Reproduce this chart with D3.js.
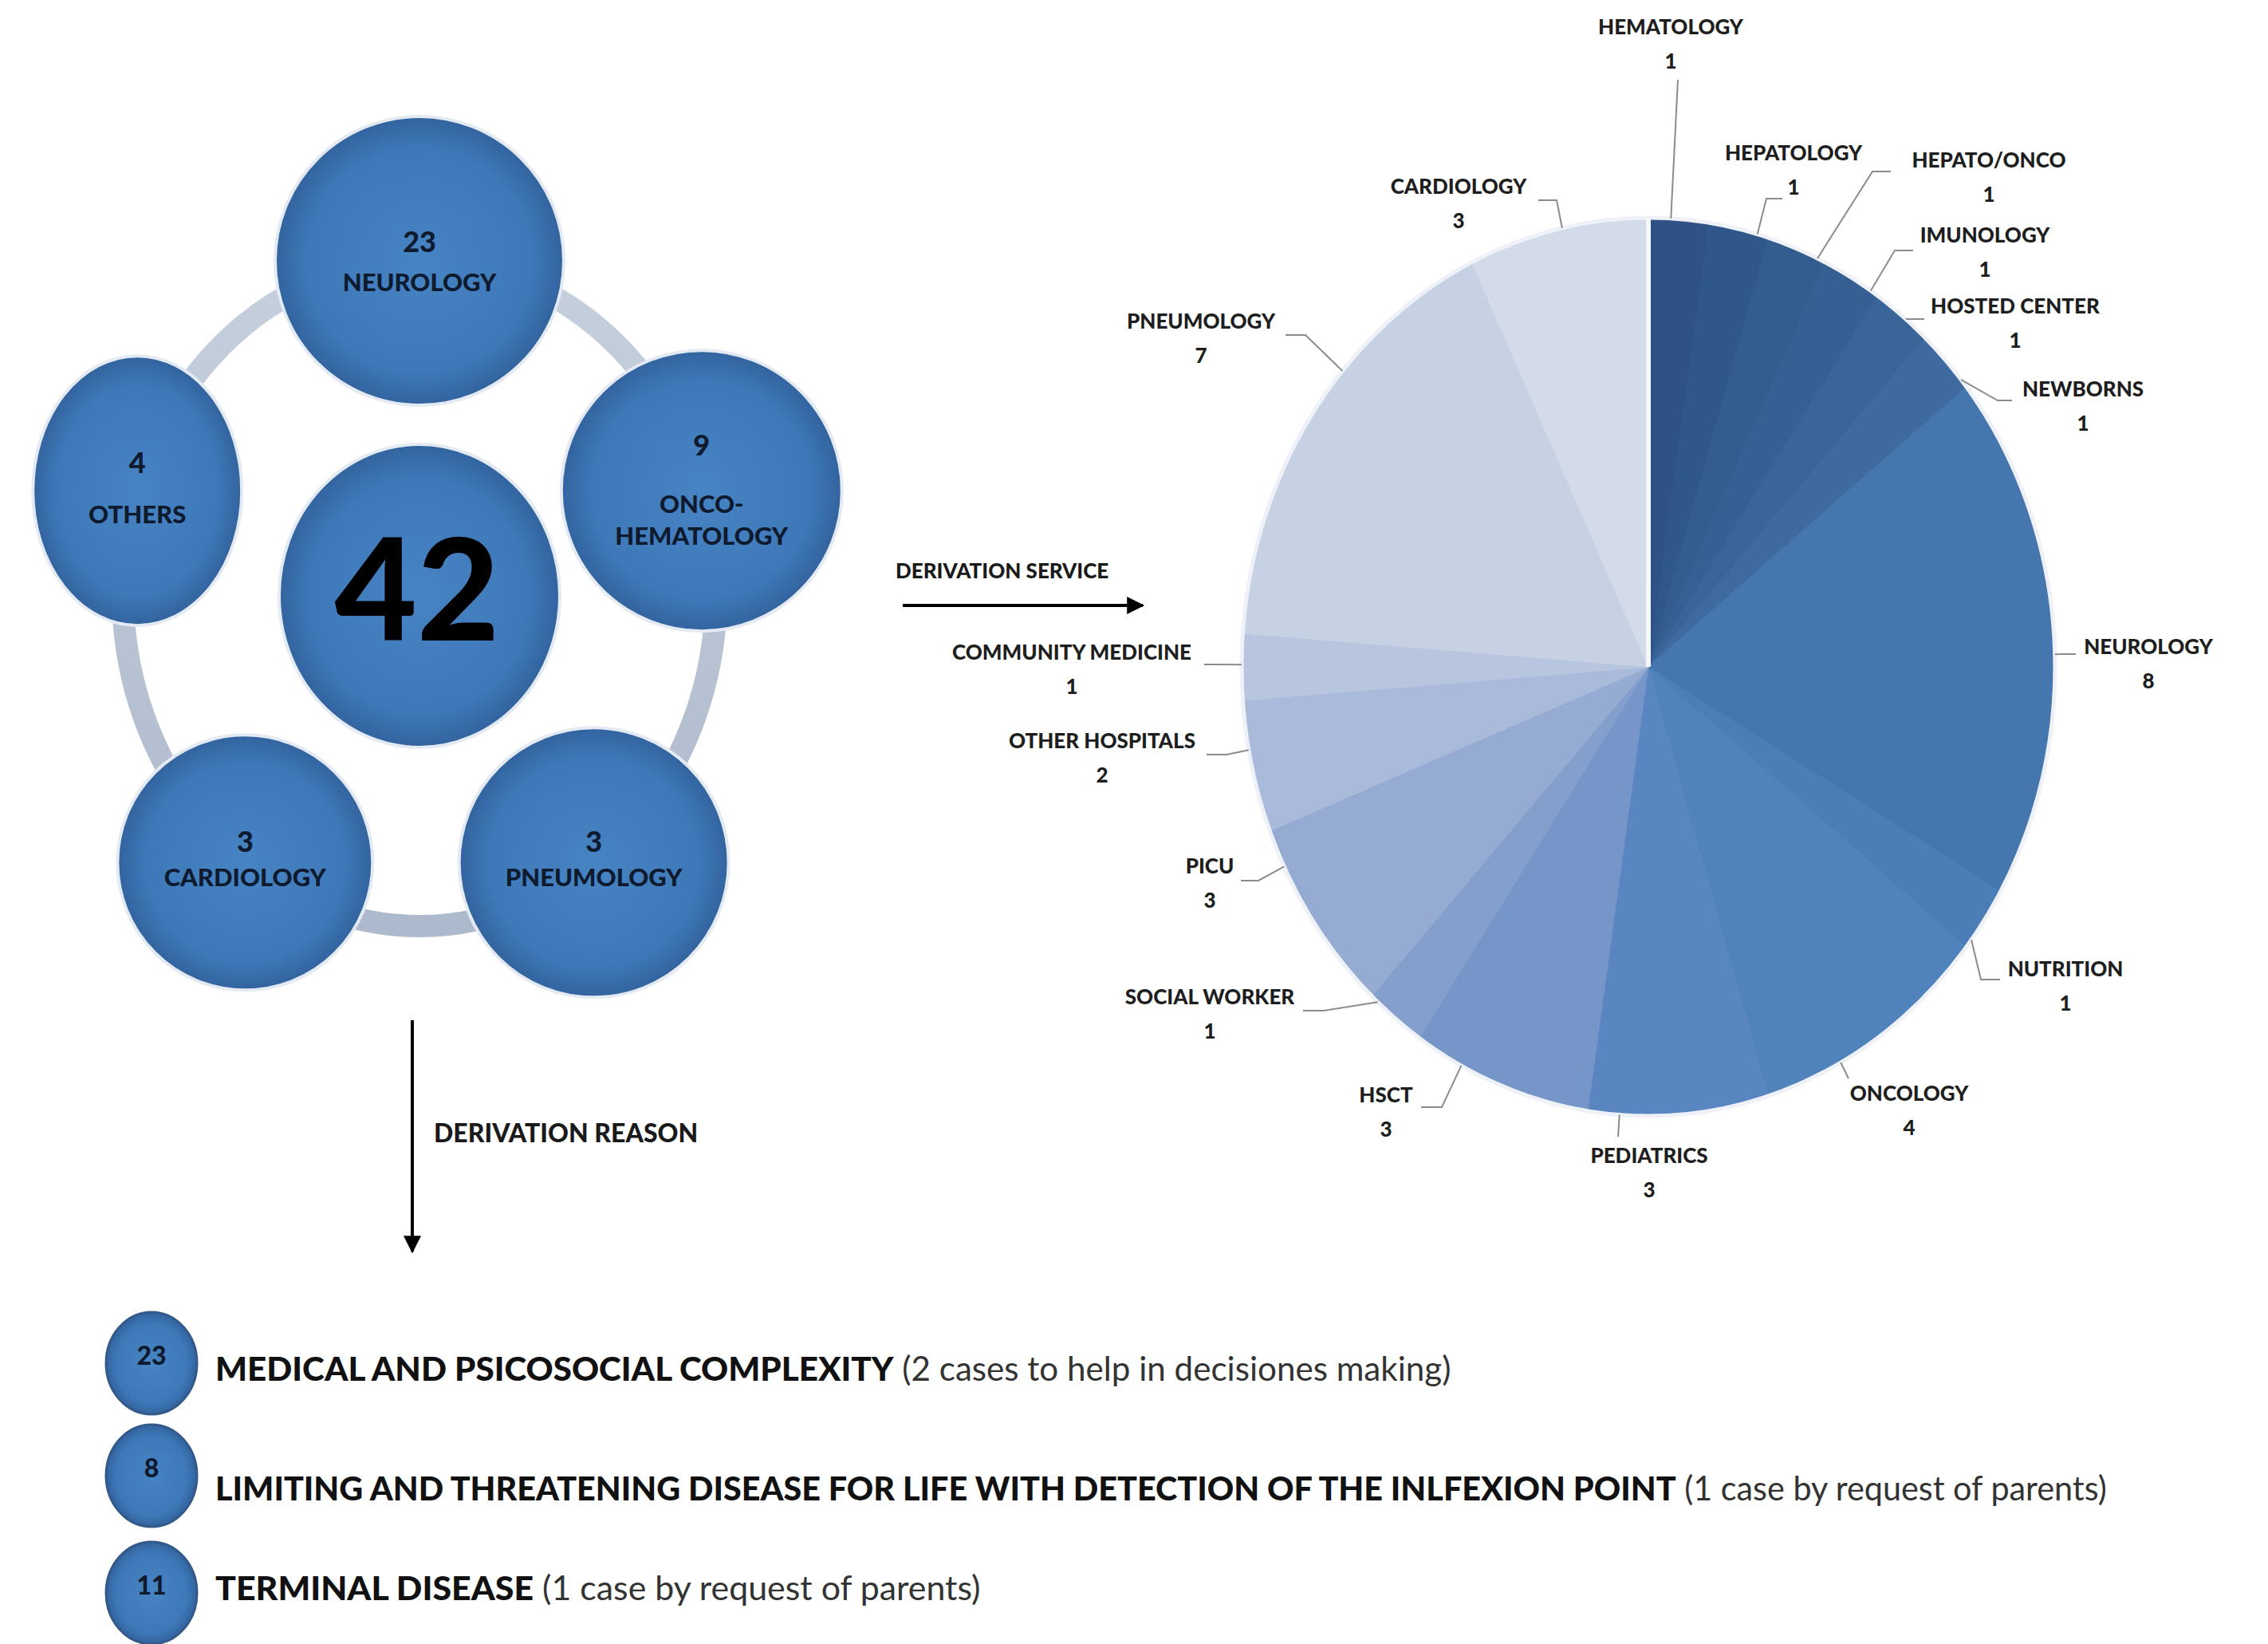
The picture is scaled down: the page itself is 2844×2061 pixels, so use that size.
<!DOCTYPE html>
<html>
<head>
<meta charset="utf-8">
<script src="https://cdn.jsdelivr.net/npm/d3@7"></script>
<style>
  body { margin: 0; background: #fff; }
  text { font-family: Lato, "Open Sans", sans-serif; }
</style>
</head>
<body>
<script>
const width = 2844;
const height = 2061;

// referral specialties (left ring)
const ringCats = ["NEUROLOGY", "ONCO-\nHEMATOLOGY", "PNEUMOLOGY", "CARDIOLOGY", "OTHERS"];
const ringValues = [23, 9, 3, 3, 4];
const totalPatients = 42;

// derivation service (pie)
const serviceNames = ["HEMATOLOGY", "HEPATOLOGY", "HEPATO/ONCO", "IMUNOLOGY", "HOSTED CENTER",
  "NEWBORNS", "NEUROLOGY", "NUTRITION", "ONCOLOGY", "PEDIATRICS", "HSCT", "SOCIAL WORKER",
  "PICU", "OTHER HOSPITALS", "COMMUNITY MEDICINE", "PNEUMOLOGY", "CARDIOLOGY"];
const serviceValues = [1, 1, 1, 1, 1, 1, 8, 1, 4, 3, 3, 1, 3, 2, 1, 7, 3];

// derivation reason
const reasonValues = [23, 8, 11];
const reasonTitles = ["MEDICAL AND PSICOSOCIAL COMPLEXITY",
  "LIMITING AND THREATENING DISEASE FOR LIFE WITH DETECTION OF THE INLFEXION POINT",
  "TERMINAL DISEASE"];
const reasonNotes = ["(2 cases to help in decisiones making)",
  "(1 case by request of parents)",
  "(1 case by request of parents)"];

// ---- layout / style (not data) ----
const ring = { cx: 526, cy: 744, rx: 372, ry: 417 };
const ringAngles = [-90, -18, 54, 126, 198];
const ringNodeR = [[181, 181], [176, 176], [169, 169], [160, 160], [131, 169]];
const ringValueDy = [-20, -53, -23, -23, -31];
const ringLabelDy = [30, 20, 22, 22, 33];

const pie = { cx: 2067, cy: 836, rx: 510, ry: 563 };
const sliceColors = ["#2d5283", "#30578a", "#335c8f", "#366094", "#3a6599", "#3e6a9f",
  "#4676ae", "#4b7db6", "#5082bc", "#5985c0", "#7695c8", "#859fcd", "#96abd2",
  "#a9badb", "#b8c5de", "#c6d1e4", "#d3dbe8"];
// name label centre, leader elbow, horizontal tick end
const labelPos = [
  { x: 2095, y: 36, ex: 2104, ey: 100, tx: null },
  { x: 2249, y: 194, ex: 2215, ey: 249, tx: 2235 },
  { x: 2494, y: 203, ex: 2348, ey: 215, tx: 2371 },
  { x: 2489, y: 297, ex: 2376, ey: 314, tx: 2399 },
  { x: 2527, y: 386, ex: 2390, ey: 400, tx: 2413 },
  { x: 2612, y: 490, ex: 2505, ey: 502, tx: 2523 },
  { x: 2694, y: 813, ex: 2585, ey: 820, tx: 2603 },
  { x: 2590, y: 1217, ex: 2484, ey: 1228, tx: 2508 },
  { x: 2394, y: 1373, ex: 2318, ey: 1352, tx: null },
  { x: 2068, y: 1451, ex: 2029, ey: 1425, tx: null },
  { x: 1738, y: 1375, ex: 1808, ey: 1388, tx: 1782 },
  { x: 1517, y: 1252, ex: 1660, ey: 1267, tx: 1634 },
  { x: 1517, y: 1088, ex: 1578, ey: 1104, tx: 1556 },
  { x: 1382, y: 931, ex: 1538, ey: 946, tx: 1513 },
  { x: 1344, y: 820, ex: 1530, ey: 833, tx: 1510 },
  { x: 1506, y: 405, ex: 1637, ey: 420, tx: 1612 },
  { x: 1829, y: 236, ex: 1952, ey: 251, tx: 1929 }
];

const reasonCircle = { cx: 190, rx: 57, ry: 64 };
const reasonRowY = [1709, 1850, 1997];
const reasonTextY = [1720, 1870, 1995];
const reasonTextX = 270;
const reasonTextW = [1550, 2372, 960];

const ink = "#0e1a2e";
const heavy = 900;

const svg = d3.select("body")
  .append("svg")
  .attr("width", width)
  .attr("height", height);

const defs = svg.append("defs");
const grad = defs.append("radialGradient").attr("id", "ball");
grad.append("stop").attr("offset", "0%").attr("stop-color", "#4784c4");
grad.append("stop").attr("offset", "78%").attr("stop-color", "#3e78b8");
grad.append("stop").attr("offset", "100%").attr("stop-color", "#32639e");

const ringGrad = defs.append("linearGradient").attr("id", "ringband")
  .attr("x1", 0).attr("y1", 0).attr("x2", 0).attr("y2", 1);
ringGrad.append("stop").attr("offset", "0%").attr("stop-color", "#c6cfdd");
ringGrad.append("stop").attr("offset", "100%").attr("stop-color", "#adb9cc");

defs.append("marker")
  .attr("id", "arrow")
  .attr("viewBox", "0 0 10 10")
  .attr("refX", 9).attr("refY", 5)
  .attr("markerUnits", "userSpaceOnUse")
  .attr("markerWidth", 26).attr("markerHeight", 22)
  .attr("orient", "auto")
  .append("path")
  .attr("d", "M0,0 L10,5 L0,10 z")
  .attr("fill", "#000");

// ---------- left ring diagram ----------
svg.append("ellipse")
  .attr("cx", ring.cx).attr("cy", ring.cy)
  .attr("rx", ring.rx).attr("ry", ring.ry)
  .attr("fill", "none")
  .attr("stroke", "url(#ringband)")
  .attr("stroke-width", 28);

const nodes = ringCats.map((c, i) => {
  const a = ringAngles[i] * Math.PI / 180;
  return {
    cat: c, value: ringValues[i],
    x: ring.cx + ring.rx * Math.cos(a),
    y: ring.cy + ring.ry * Math.sin(a),
    r: ringNodeR[i], vdy: ringValueDy[i], ldy: ringLabelDy[i]
  };
});

const node = svg.selectAll(".ringnode")
  .data(nodes)
  .enter()
  .append("g")
  .attr("class", "ringnode")
  .attr("transform", d => `translate(${d.x},${d.y})`);

node.append("ellipse")
  .attr("rx", d => d.r[0]).attr("ry", d => d.r[1])
  .attr("fill", "url(#ball)")
  .attr("stroke", "#e3eaf4")
  .attr("stroke-width", 4);

node.append("text")
  .attr("y", d => d.vdy)
  .attr("text-anchor", "middle")
  .attr("dominant-baseline", "middle")
  .attr("font-size", 36)
  .attr("font-weight", heavy)
  .attr("fill", ink)
  .text(d => d.value);

node.each(function(d) {
  const lines = d.cat.split("\n");
  const t = d3.select(this).append("text")
    .attr("text-anchor", "middle")
    .attr("font-size", 31)
    .attr("font-weight", heavy)
    .attr("fill", ink);
  lines.forEach((ln, j) => {
    t.append("tspan")
      .attr("x", 0)
      .attr("y", d.ldy + j * 40)
      .attr("dominant-baseline", "middle")
      .text(ln);
  });
});

// centre total
svg.append("ellipse")
  .attr("cx", ring.cx).attr("cy", 747)
  .attr("rx", 176).attr("ry", 190)
  .attr("fill", "url(#ball)")
  .attr("stroke", "#e3eaf4")
  .attr("stroke-width", 4);

svg.append("text")
  .attr("x", ring.cx - 3).attr("y", 803)
  .attr("text-anchor", "middle")
  .attr("font-size", 178)
  .attr("font-weight", heavy)
  .attr("fill", "#000")
  .text(totalPatients);

// ---------- arrows ----------
svg.append("line")
  .attr("x1", 517).attr("y1", 1279)
  .attr("x2", 517).attr("y2", 1569)
  .attr("stroke", "#000").attr("stroke-width", 4)
  .attr("marker-end", "url(#arrow)");

svg.append("text")
  .attr("x", 544).attr("y", 1424)
  .attr("dominant-baseline", "middle")
  .attr("font-size", 32).attr("font-weight", heavy)
  .attr("fill", "#1a1a1a")
  .text("DERIVATION REASON");

svg.append("line")
  .attr("x1", 1132).attr("y1", 759)
  .attr("x2", 1433).attr("y2", 759)
  .attr("stroke", "#000").attr("stroke-width", 4)
  .attr("marker-end", "url(#arrow)");

svg.append("text")
  .attr("x", 1123).attr("y", 718)
  .attr("dominant-baseline", "middle")
  .attr("font-size", 26).attr("font-weight", heavy)
  .attr("fill", "#1a1a1a")
  .text("DERIVATION SERVICE");

// ---------- pie ----------
const pieGen = d3.pie().sort(null).value(d => d)(serviceValues);
const arc = d3.arc().innerRadius(0).outerRadius(pie.rx);

svg.append("g")
  .attr("transform", `translate(${pie.cx},${pie.cy}) scale(1,${pie.ry / pie.rx})`)
  .selectAll("path")
  .data(pieGen)
  .enter()
  .append("path")
  .attr("d", arc)
  .attr("fill", (d, i) => sliceColors[i])
  .attr("stroke", (d, i) => sliceColors[i])
  .attr("stroke-width", 1);

svg.append("ellipse")
  .attr("cx", pie.cx).attr("cy", pie.cy)
  .attr("rx", pie.rx).attr("ry", pie.ry)
  .attr("fill", "none")
  .attr("stroke", "#eef2f8")
  .attr("stroke-width", 5);

svg.append("line")
  .attr("x1", pie.cx).attr("y1", pie.cy)
  .attr("x2", pie.cx).attr("y2", pie.cy - pie.ry)
  .attr("stroke", "#f4f7fb")
  .attr("stroke-width", 6);

// leader lines: attach to slice edge in the direction of the elbow, clamped to slice
function edgePoint(d, lp) {
  let a = Math.atan2((lp.ex - pie.cx) / pie.rx, -(lp.ey - pie.cy) / pie.ry);
  if (a < 0) a += 2 * Math.PI;
  const pad = 0.02;
  a = Math.max(d.startAngle + pad, Math.min(d.endAngle - pad, a));
  return [pie.cx + pie.rx * Math.sin(a), pie.cy - pie.ry * Math.cos(a)];
}

const lineGen = d3.line();
const labels = svg.append("g");

pieGen.forEach((d, i) => {
  const lp = labelPos[i];
  const pts = [];
  if (lp.tx !== null) pts.push([lp.tx, lp.ey]);
  pts.push([lp.ex, lp.ey]);
  pts.push(edgePoint(d, lp));
  labels.append("path")
    .attr("d", lineGen(pts))
    .attr("fill", "none")
    .attr("stroke", "#8c8c8c")
    .attr("stroke-width", 2);

  labels.append("text")
    .attr("x", lp.x).attr("y", lp.y)
    .attr("text-anchor", "middle")
    .attr("dominant-baseline", "middle")
    .attr("font-size", 26).attr("font-weight", heavy)
    .attr("fill", "#1e1e1e")
    .text(serviceNames[i]);

  labels.append("text")
    .attr("x", lp.x).attr("y", lp.y + 43)
    .attr("text-anchor", "middle")
    .attr("dominant-baseline", "middle")
    .attr("font-size", 26).attr("font-weight", heavy)
    .attr("fill", "#1e1e1e")
    .text(d.data);
});

// ---------- derivation reasons ----------
const rows = svg.selectAll(".reason")
  .data(reasonValues)
  .enter()
  .append("g")
  .attr("class", "reason");

rows.append("ellipse")
  .attr("cx", reasonCircle.cx)
  .attr("cy", (d, i) => reasonRowY[i])
  .attr("rx", reasonCircle.rx).attr("ry", reasonCircle.ry)
  .attr("fill", "url(#ball)")
  .attr("stroke", "#33598a")
  .attr("stroke-width", 3);

rows.append("text")
  .attr("x", reasonCircle.cx)
  .attr("y", (d, i) => reasonRowY[i] - 6)
  .attr("text-anchor", "middle")
  .attr("dominant-baseline", "middle")
  .attr("font-size", 32).attr("font-weight", heavy)
  .attr("fill", ink)
  .text(d => d);

rows.each(function(d, i) {
  const t = d3.select(this).append("text")
    .attr("x", reasonTextX)
    .attr("y", reasonTextY[i])
    .attr("dominant-baseline", "middle")
    .attr("font-size", 42);
  t.append("tspan")
    .attr("font-weight", heavy)
    .attr("fill", "#111")
    .text(reasonTitles[i]);
  t.append("tspan")
    .attr("fill", "#333")
    .text(" " + reasonNotes[i]);
  const w = t.node().getBBox().width;
  const k = reasonTextW[i] / w;
  t.attr("transform", `translate(${reasonTextX},0) scale(${k},1) translate(${-reasonTextX},0)`);
});
</script>
</body>
</html>
